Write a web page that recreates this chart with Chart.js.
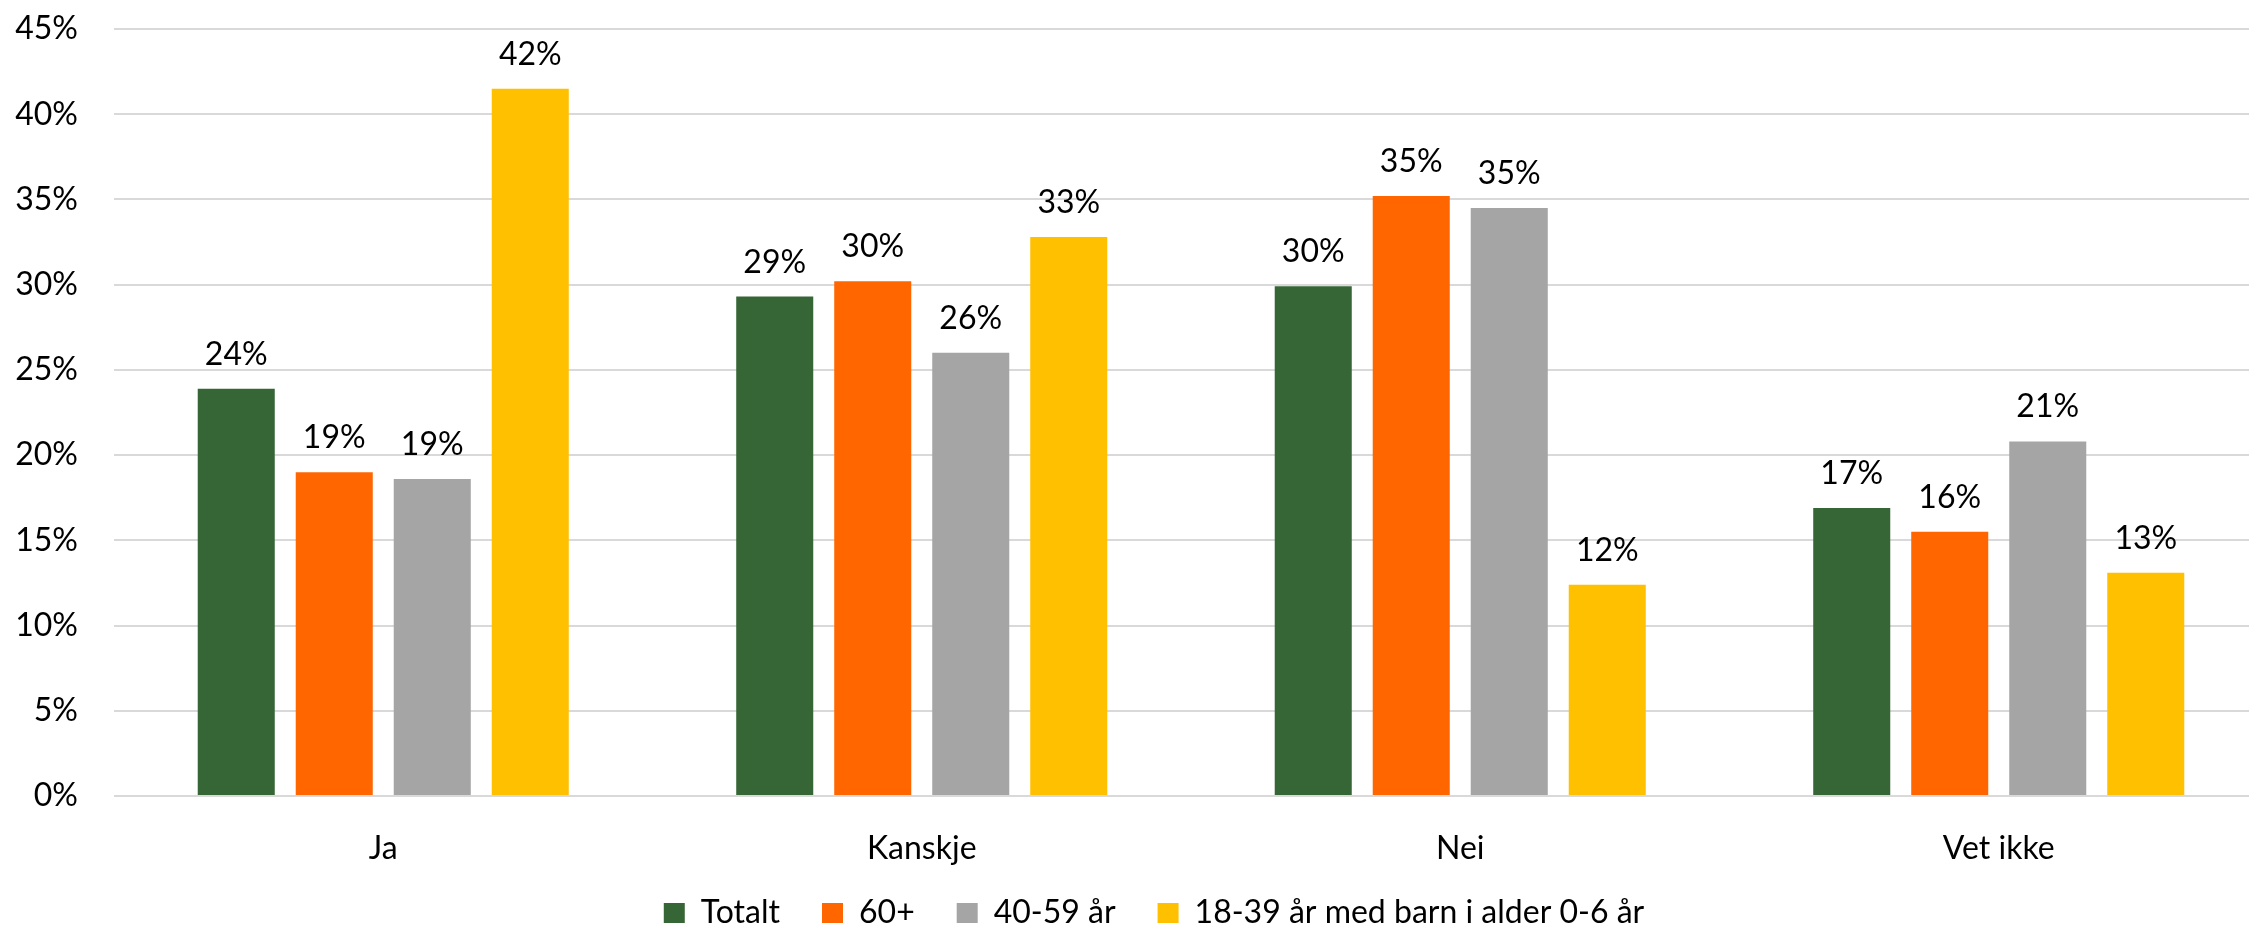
<!DOCTYPE html>
<html>
<head>
<meta charset="utf-8">
<script src="https://cdn.jsdelivr.net/npm/chart.js@4/dist/chart.umd.min.js"></script>
<style>
  html, body { margin: 0; padding: 0; background: #ffffff; overflow: hidden; width: 2249px; height: 926px; }
  #wrap { width: 2249px; height: 926px; overflow: hidden; position: relative; }
  canvas { display: block; }
</style>
</head>
<body>
<div id="wrap"><canvas id="c" width="2268" height="952"></canvas></div>
<script>
// ---- data ----
const categories = ["Ja", "Kanskje", "Nei", "Vet ikke"];
const seriesNames = ["Totalt", "60+", "40-59 år", "18-39 år med barn i alder 0-6 år"];
const totalt   = [23.9, 29.3, 29.9, 16.9];
const sixtyPlus = [19.0, 30.2, 35.2, 15.5];
const age4059  = [18.6, 26.0, 34.5, 20.8];
const age1839  = [41.5, 32.8, 12.4, 13.1];
const seriesColors = ["#366635", "#FF6600", "#A5A5A5", "#FFC000"];
const yTicks = [0, 5, 10, 15, 20, 25, 30, 35, 40, 45];

const FONT = "Lato";
const FS = 32;
const LEG_PAD = 42;

const valueLabels = {
  id: "valueLabels",
  afterDatasetsDraw(chart) {
    const ctx = chart.ctx;
    ctx.save();
    ctx.font = FS + "px " + FONT;
    ctx.fillStyle = "#000000";
    ctx.textAlign = "center";
    ctx.textBaseline = "alphabetic";
    chart.data.datasets.forEach((ds, i) => {
      chart.getDatasetMeta(i).data.forEach((bar, j) => {
        ctx.fillText(Math.round(ds.data[j]) + "%", bar.x, bar.y - 24);
      });
    });
    ctx.restore();
  }
};

const legendShift = {
  id: "legendShift",
  afterLayout(chart) {
    const lg = chart.legend;
    if (!lg) return;
    lg.left += 20; lg.right += 20;
    const dy = 913 - (lg.top + LEG_PAD + FS / 2);
    lg.top += dy; lg.bottom += dy;
  }
};

function draw() {
  const seriesData = [totalt, sixtyPlus, age4059, age1839];
  new Chart(document.getElementById("c"), {
    type: "bar",
    data: {
      labels: categories,
      datasets: seriesNames.map((n, i) => ({
        label: n,
        data: seriesData[i],
        backgroundColor: seriesColors[i],
        borderWidth: 0,
        categoryPercentage: 0.728,
        barPercentage: 0.786
      }))
    },
    options: {
      responsive: false,
      animation: false,
      devicePixelRatio: 1,
      layout: { padding: { top: 29, left: 0, right: 0, bottom: 0 } },
      plugins: {
        tooltip: { enabled: false },
        legend: {
          position: "bottom",
          labels: {
            color: "#000000",
            font: { family: FONT, size: FS },
            boxWidth: 21,
            boxHeight: 20,
            padding: LEG_PAD
          }
        }
      },
      scales: {
        x: {
          grid: { display: false, drawTicks: false },
          border: { display: false },
          ticks: { color: "#000000", font: { family: FONT, size: FS }, padding: 33 },
          afterFit(scale) { scale.height = 72; }
        },
        y: {
          min: 0,
          max: 45,
          afterBuildTicks(scale) { scale.ticks = yTicks.map(v => ({ value: v })); },
          grid: { color: "#d9d9d9", lineWidth: 2, drawTicks: false },
          border: { display: false },
          ticks: {
            color: "#000000",
            font: { family: FONT, size: FS },
            padding: 36,
            callback: v => v + "%"
          },
          afterFit(scale) { scale.width = 114; scale.paddingTop = 0; scale.paddingBottom = 0; }
        }
      }
    },
    plugins: [valueLabels, legendShift]
  });
}

document.fonts.load(FS + "px " + FONT).then(draw, draw);
</script>
</body>
</html>
